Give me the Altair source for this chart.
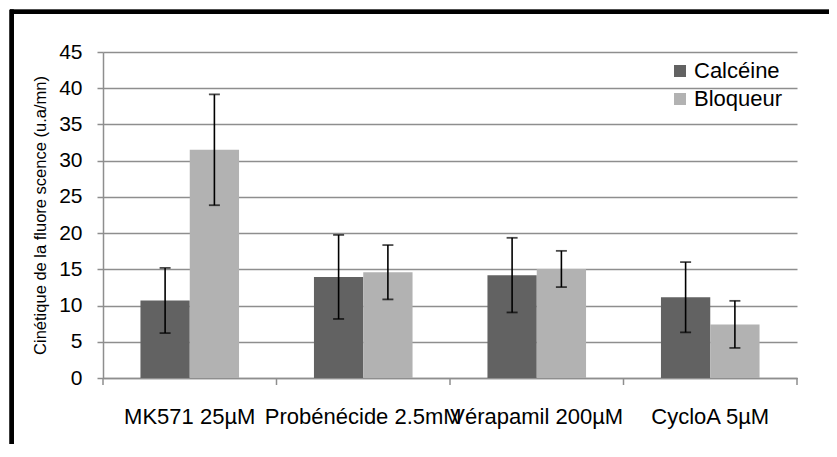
import altair as alt
import pandas as pd

categories = ["MK571 25µM", "Probénécide 2.5mM", "Vérapamil 200µM", "CycloA 5µM"]
series = ["Calcéine", "Bloqueur"]
calceine_vals = [10.7, 13.95, 14.2, 11.15]
calceine_err = [4.5, 5.8, 5.15, 4.85]
bloqueur_vals = [31.5, 14.6, 15.05, 7.4]
bloqueur_err = [7.65, 3.75, 2.5, 3.25]
y_ticks = [0, 5, 10, 15, 20, 25, 30, 35, 40, 45]
y_title = "Cinétique de la fluore scence (u.a/mn)"

rows = []
for i, c in enumerate(categories):
    rows.append({"cat": c, "serie": series[0], "val": calceine_vals[i], "err": calceine_err[i]})
    rows.append({"cat": c, "serie": series[1], "val": bloqueur_vals[i], "err": bloqueur_err[i]})
df = pd.DataFrame(rows)
cat_df = pd.DataFrame({"cat": categories})
last_df = pd.DataFrame({"cat": categories[-1:]})

W, H = 694, 326
GRID = "#8e8e8e"
FONT = "Liberation Sans"

yscale = alt.Scale(domain=[0, 45], nice=False, zero=True)
xscale = alt.Scale(paddingInner=0, paddingOuter=0)
xoscale = alt.Scale(paddingInner=0, paddingOuter=0.76)

x_axis = alt.Axis(ticks=False, labelFontSize=22, labelColor="black",
                  labelBaseline="alphabetic", labelPadding=45,
                  labelOverlap=False, labelLimit=0, labelAngle=0,
                  domainColor=GRID, domainWidth=1.5, grid=False)
y_axis = alt.Axis(values=y_ticks, labelFontSize=21, labelColor="black",
                  labelOverlap=False,
                  tickSize=6, tickColor=GRID, tickWidth=1.5,
                  labelPadding=15, domainColor=GRID, domainWidth=1.5,
                  grid=True, gridColor=GRID, gridWidth=1.5,
                  titleFontSize=16.5, titleFontWeight="normal", titleColor="black",
                  titleX=-63, titleY=H / 2, titleAlign="center",
                  titleBaseline="middle", titleAngle=-90)


def X(**kw):
    return alt.X("cat:N", sort=categories, scale=xscale, title=None, axis=x_axis, **kw)


def XO():
    return alt.XOffset("serie:N", sort=series, scale=xoscale)


def Y(field):
    return alt.Y(field, scale=yscale, title=y_title, axis=y_axis)


base = alt.Chart(df)

bars = base.mark_bar().encode(
    x=X(),
    xOffset=XO(),
    y=Y("val:Q"),
    color=alt.Color("serie:N", sort=series,
                    scale=alt.Scale(domain=series, range=["#626262", "#b2b2b2"]),
                    legend=alt.Legend(title=None, orient="none", legendX=566, legendY=8,
                                      symbolType="square", symbolSize=144,
                                      symbolStrokeWidth=0, labelFontSize=22,
                                      labelColor="black", labelOffset=3,
                                      rowPadding=6, padding=0)),
)

err = base.transform_calculate(
    lo="datum.val - datum.err", hi="datum.val + datum.err"
)
err_rule = err.mark_rule(color="black", strokeWidth=1.6).encode(
    x=X(), xOffset=XO(), y=Y("lo:Q"), y2="hi:Q",
)
cap_lo = err.mark_tick(color="black", size=11, thickness=1.8, orient="horizontal").encode(
    x=X(), xOffset=XO(), y=Y("lo:Q"),
)
cap_hi = err.mark_tick(color="black", size=11, thickness=1.8, orient="horizontal").encode(
    x=X(), xOffset=XO(), y=Y("hi:Q"),
)

xticks = alt.Chart(cat_df).mark_rule(color=GRID, strokeWidth=1.5).encode(
    x=X(bandPosition=0),
    y=alt.value(H),
    y2=alt.value(H + 7),
)
xtick_last = alt.Chart(last_df).mark_rule(color=GRID, strokeWidth=1.5).encode(
    x=X(bandPosition=1),
    y=alt.value(H),
    y2=alt.value(H + 7),
)

frame_top = alt.Chart(cat_df).mark_rule(color="black", strokeWidth=4).encode(
    x=alt.value(-93), x2=alt.value(W + 40), y=alt.value(-40.3)
)
frame_left = alt.Chart(cat_df).mark_rule(color="black", strokeWidth=4).encode(
    x=alt.value(-91.3), y=alt.value(-42.3), y2=alt.value(H + 80)
)

chart = alt.layer(bars, err_rule, cap_lo, cap_hi, xticks, xtick_last, frame_top, frame_left).properties(
    width=W, height=H,
    autosize=alt.AutoSizeParams(type="none"),
    padding={"left": 95, "top": 44, "right": 32, "bottom": 66},
).configure(font=FONT).configure_view(stroke=None)

chart.save("out.html", embed_options={"renderer": "svg", "actions": False})
